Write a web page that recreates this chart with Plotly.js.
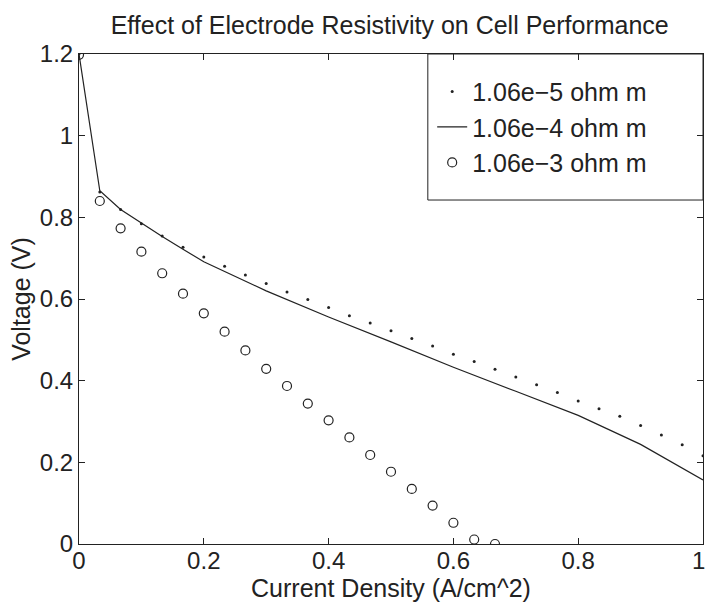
<!DOCTYPE html>
<html>
<head>
<meta charset="utf-8">
<script src="https://cdn.plot.ly/plotly-3.0.1.min.js"></script>
<style>html,body{margin:0;padding:0;background:#fff;}</style>
</head>
<body>
<div id="chart" style="width:706px;height:606px;"></div>
<script>
// Series 1: 1.06e-5 ohm m (dots)
const xDots = [0, 1/30, 2/30, 3/30, 4/30, 5/30, 6/30, 7/30, 8/30, 9/30, 10/30, 11/30, 12/30, 13/30, 14/30, 15/30,
  16/30, 17/30, 18/30, 19/30, 20/30, 21/30, 22/30, 23/30, 24/30, 25/30, 26/30, 27/30, 28/30, 29/30, 1];
const yDots = [1.2, 0.862, 0.819, 0.784, 0.754, 0.727, 0.703, 0.680, 0.659, 0.638, 0.617, 0.599, 0.579, 0.559, 0.541, 0.522,
  0.503, 0.485, 0.465, 0.447, 0.428, 0.409, 0.390, 0.371, 0.350, 0.331, 0.313, 0.290, 0.267, 0.243, 0.216];

// Series 2: 1.06e-4 ohm m (solid line)
const xLine = [0, 1/30, 2/30, 3/30, 4/30, 5/30, 0.2, 0.3, 0.4, 0.5, 0.6, 0.7, 0.8, 0.9, 1.0];
const yLine = [1.2, 0.865, 0.819, 0.785, 0.753, 0.722, 0.691, 0.620, 0.556, 0.495, 0.433, 0.374, 0.315, 0.244, 0.157];

// Series 3: 1.06e-3 ohm m (open circles)
const xCirc = [0, 1/30, 2/30, 3/30, 4/30, 5/30, 6/30, 7/30, 8/30, 9/30, 10/30, 11/30, 12/30, 13/30, 14/30, 15/30,
  16/30, 17/30, 18/30, 19/30, 20/30];
const yCirc = [1.198, 0.840, 0.773, 0.716, 0.663, 0.613, 0.565, 0.520, 0.474, 0.429, 0.387, 0.344, 0.303, 0.261, 0.218, 0.177,
  0.135, 0.094, 0.052, 0.011, 0.0];

// Axis ticks
const xTicks = [0, 0.2, 0.4, 0.6, 0.8, 1];
const xTickText = ['0', '0.2', '0.4', '0.6', '0.8', '1'];
const yTicks = [0, 0.2, 0.4, 0.6, 0.8, 1, 1.2];
const yTickText = ['0', '0.2', '0.4', '0.6', '0.8', '1', '1.2'];

const names = ['1.06e\u22125 ohm m', '1.06e\u22124 ohm m', '1.06e\u22123 ohm m'];
const FONT = 'Liberation Sans, Arial, Helvetica, sans-serif';
const INK = '#222';

const traces = [
  {x: xDots, y: yDots, name: names[0], mode: 'markers', type: 'scatter', legendgroup: 'a',
   marker: {symbol: 'circle', size: 3, color: INK}},
  {x: xLine, y: yLine, name: names[1], mode: 'lines', type: 'scatter', legendgroup: 'b',
   line: {color: INK, width: 1.2}},
  {x: xCirc, y: yCirc, name: names[2], mode: 'markers', type: 'scatter', legendgroup: 'c',
   marker: {symbol: 'circle-open', size: 9, color: INK, line: {width: 1.2, color: INK}}}
];

// The last x tick label sits at the very right edge of the figure; it is drawn
// as a right-anchored annotation so that it stays fully inside the picture.
const lastIdx = xTickText.length - 1;
const xAxisText = xTickText.map((t, i) => (i === lastIdx ? '' : t));

const axisCommon = {
  showgrid: false, zeroline: false, showline: true, linecolor: INK, linewidth: 1,
  mirror: 'ticks', ticks: 'inside', ticklen: 6, tickcolor: INK, tickmode: 'array',
  tickfont: {family: FONT, size: 24, color: INK}
};

const layout = {
  width: 706, height: 606,
  margin: {l: 79, r: 3, t: 54, b: 62, pad: 0},
  paper_bgcolor: '#fff', plot_bgcolor: '#fff',
  font: {family: FONT, color: INK},
  title: {text: 'Effect of Electrode Resistivity on Cell Performance',
          font: {family: FONT, size: 25, color: INK}, x: 0.552, xanchor: 'center', y: 0.959, yanchor: 'middle'},
  xaxis: Object.assign({}, axisCommon, {range: [0, 1], tickvals: xTicks, ticktext: xAxisText, ticklabelstandoff: -5,
     title: {text: 'Current Density (A/cm^2)', font: {family: FONT, size: 25, color: INK}, standoff: 0}}),
  yaxis: Object.assign({}, axisCommon, {range: [0, 1.2], tickvals: yTicks, ticktext: yTickText, ticklabelstandoff: 0,
     title: {text: 'Voltage (V)', font: {family: FONT, size: 25, color: INK}, standoff: 2}}),
  annotations: [{text: xTickText[lastIdx], xref: 'paper', yref: 'paper', x: 1.0045, y: -0.0327,
                 xanchor: 'right', yanchor: 'middle', showarrow: false, borderpad: 0,
                 font: {family: FONT, size: 24, color: INK}}],
  shapes: [{type: 'rect', xref: 'paper', yref: 'paper', x0: 0.559, x1: 1, y0: 0.702, y1: 1,
            line: {color: INK, width: 1}, fillcolor: 'rgba(0,0,0,0)', layer: 'above'}],
  showlegend: true,
  legend: {x: 0.566, y: 0.970, xanchor: 'left', yanchor: 'top', bgcolor: 'rgba(0,0,0,0)',
           borderwidth: 0, font: {family: FONT, size: 25, color: INK},
           itemwidth: 30, tracegroupgap: 5, traceorder: 'normal'}
};

Plotly.newPlot('chart', traces, layout, {displayModeBar: false, staticPlot: true});
</script>
</body>
</html>
